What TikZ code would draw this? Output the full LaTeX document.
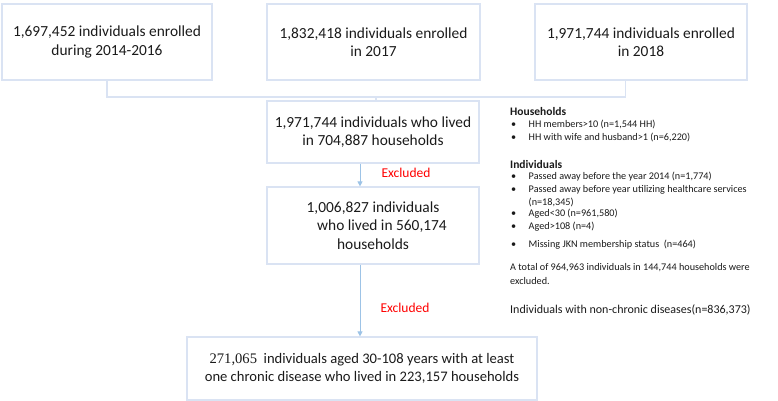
\documentclass[tikz,border=0pt]{standalone}
\usepackage{fontspec}
\setmainfont{Carlito}
\newfontfamily\numserif{Liberation Serif}
\usetikzlibrary{arrows.meta}
\definecolor{boxline}{HTML}{DAE3F3}
\definecolor{arrline}{HTML}{9DC3E6}
\definecolor{txt}{HTML}{1A1A1A}
\tikzset{
  stagebox/.style={draw=boxline, line width=1.2pt, rectangle, align=center, text=txt,
    font=\fontsize{15.4}{18.5}\selectfont, inner sep=0pt},
  joinline/.style={draw=boxline, line width=1.2pt},
  arr/.style={draw=arrline, line width=1pt, -{Triangle[width=5pt,length=5pt]}},
  exclabel/.style={text=red, font=\fontsize{13.5}{16}\selectfont, anchor=center, inner sep=0pt},
  sidehead/.style={font=\bfseries\fontsize{11.5}{14}\selectfont, anchor=west, inner sep=0pt, text=txt},
  sideitem/.style={font=\fontsize{10.2}{12.5}\selectfont, anchor=west, inner sep=0pt, text=txt},
  sidebig/.style={font=\fontsize{12}{14.5}\selectfont, anchor=west, inner sep=0pt, text=txt}
}
\newcommand{\bul}[1]{\makebox[17.5pt][l]{•}#1}
\begin{document}
\begin{tikzpicture}[x=1pt,y=-1pt]
\useasboundingbox (0,0) rectangle (778,401);
% top boxes
\node[stagebox, minimum width=210pt, minimum height=76pt] (b1) at (107,42)
  {1,697,452 individuals enrolled\\during 2014-2016};
\node[stagebox, minimum width=213pt, minimum height=76pt] (b2) at (373.5,42)
  {1,832,418 individuals enrolled\\in 2017};
\node[stagebox, minimum width=212pt, minimum height=76pt] (b3) at (641,42)
  {1,971,744 individuals enrolled\\in 2018};
% middle boxes
\node[stagebox, minimum width=212pt, minimum height=62pt] (b4) at (373,132)
  {1,971,744 individuals who lived\\in 704,887 households};
\node[stagebox, minimum width=212pt, minimum height=77pt] (b5) at (373,225.5)
  {1,006,827 individuals\\\hspace*{18pt}who lived in 560,174\\households};
\node[stagebox, minimum width=350pt, minimum height=63pt, font=\fontsize{14.6}{17.5}\selectfont] (b6) at (362,368.5)
  {{\numserif 271,065}\ \ individuals aged 30-108 years with at least\\one chronic disease who lived in 223,157 households};
% join connector
\coordinate (j) at (376,97);
\coordinate (c3) at (625.5,80);
\coordinate (ax) at (360,0);
\draw[joinline] (b1.south) |- (c3 |- j) -- (c3);
\draw[joinline] (j) -- (j |- b4.north);
% arrows
\draw[arr] (b4.south -| ax) -- (b5.north -| ax);
\draw[arr] (b5.south -| ax) -- (b6.north -| ax);
\node[exclabel] (e1) at (406,173) {Excluded};
\node[exclabel] (e2) at (405,308) {Excluded};
% side text
\node[sidehead] (hh) at (510,111.5) {Households};
\node[sideitem] (hh1) at (511,124) {\bul{HH members>10 (n=1,544 HH)}};
\node[sideitem] (hh2) at (511,137) {\bul{HH with wife and husband>1 (n=6,220)}};
\node[sidehead] (ih) at (510,164.5) {Individuals};
\node[sideitem] (i1) at (511,177) {\bul{Passed away before the year 2014 (n=1,774)}};
\node[sideitem] (i2) at (511,190) {\bul{Passed away before year utilizing healthcare services}};
\node[sideitem] (i2b) at (528.5,202) {(n=18,345)};
\node[sideitem] (i3) at (511,214) {\bul{Aged<30 (n=961,580)}};
\node[sideitem] (i4) at (511,226.5) {\bul{Aged>108 (n=4)}};
\node[sideitem] (i5) at (511,245) {\bul{Missing JKN membership status\ \ (n=464)}};
\node[sideitem] (tot1) at (510,268) {A total of 964,963 individuals in 144,744 households were};
\node[sideitem] (tot2) at (510,280.5) {excluded.};
\node[sidebig] (nc) at (510,310) {Individuals with non-chronic diseases(n=836,373)};
\end{tikzpicture}
\end{document}
